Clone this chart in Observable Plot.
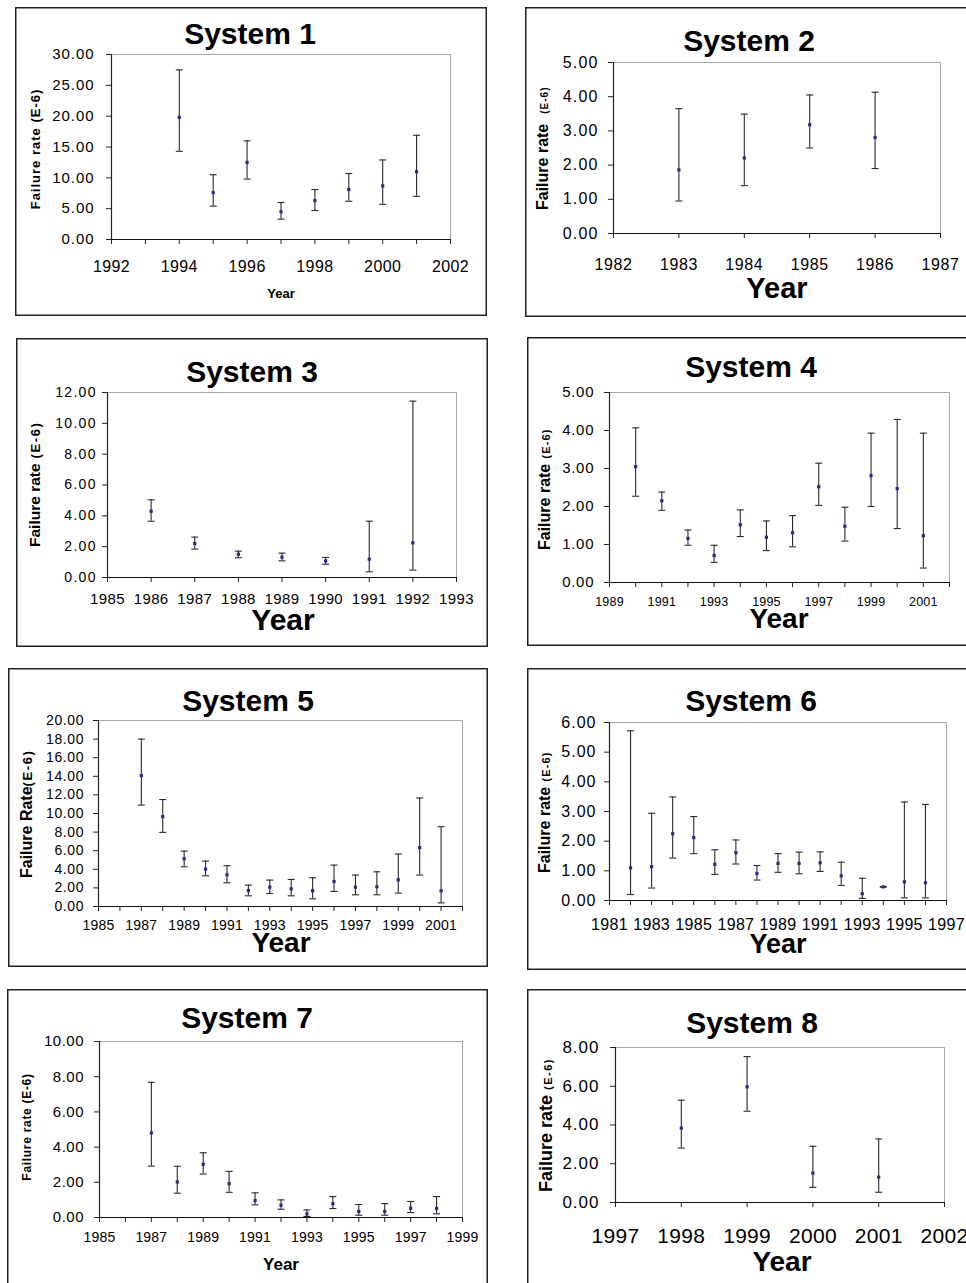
<!DOCTYPE html>
<html>
<head>
<meta charset="utf-8">
<script src="https://cdn.jsdelivr.net/npm/d3@7"></script>
<script src="https://cdn.jsdelivr.net/npm/@observablehq/plot@0.6"></script>
<style>
html,body{margin:0;padding:0;background:#fff;overflow:hidden;}
#page{position:relative;width:966px;height:1283px;overflow:hidden;background:#fff;}
#page svg{position:absolute;max-width:none;}
</style>
</head>
<body>
<div id="page"></div>
<script>
// ---------------- DATA ----------------
const sys1Years  = [1994, 1995, 1996, 1997, 1998, 1999, 2000, 2001];
const sys1Rate   = [19.8, 7.6, 12.5, 4.5, 6.3, 8.1, 8.7, 11.0];
const sys1Upper  = [27.5, 10.5, 16.0, 6.0, 8.1, 10.7, 12.9, 16.9];
const sys1Lower  = [14.3, 5.4, 9.8, 3.3, 4.7, 6.2, 5.7, 7.0];
const sys1XTicks = [1992, 1993, 1994, 1995, 1996, 1997, 1998, 1999, 2000, 2001, 2002];
const sys1XLabels = [1992, 1994, 1996, 1998, 2000, 2002];
const sys1YTicks = [0, 5, 10, 15, 20, 25, 30];

const sys2Years  = [1983, 1984, 1985, 1986];
const sys2Rate   = [1.86, 2.21, 3.18, 2.81];
const sys2Upper  = [3.65, 3.49, 4.05, 4.13];
const sys2Lower  = [0.95, 1.40, 2.50, 1.90];
const sys2XTicks = [1982, 1983, 1984, 1985, 1986, 1987];
const sys2XLabels = [1982, 1983, 1984, 1985, 1986, 1987];
const sys2YTicks = [0, 1, 2, 3, 4, 5];

const sys3Years  = [1986, 1987, 1988, 1989, 1990, 1991, 1992];
const sys3Rate   = [4.30, 2.20, 1.51, 1.32, 1.08, 1.19, 2.25];
const sys3Upper  = [5.04, 2.62, 1.71, 1.58, 1.30, 3.65, 11.44];
const sys3Lower  = [3.65, 1.84, 1.28, 1.08, 0.86, 0.37, 0.48];
const sys3XTicks = [1985, 1986, 1987, 1988, 1989, 1990, 1991, 1992, 1993];
const sys3XLabels = [1985, 1986, 1987, 1988, 1989, 1990, 1991, 1992, 1993];
const sys3YTicks = [0, 2, 4, 6, 8, 10, 12];

const sys4Years  = [1990, 1991, 1992, 1993, 1994, 1995, 1996, 1997, 1998, 1999, 2000, 2001];
const sys4Rate   = [3.05, 2.15, 1.16, 0.71, 1.52, 1.19, 1.31, 2.52, 1.48, 2.81, 2.47, 1.23];
const sys4Upper  = [4.07, 2.38, 1.38, 0.98, 1.91, 1.62, 1.76, 3.14, 1.98, 3.93, 4.29, 3.93];
const sys4Lower  = [2.27, 1.90, 0.98, 0.53, 1.21, 0.84, 0.94, 2.03, 1.09, 2.00, 1.42, 0.38];
const sys4XTicks = [1989, 1990, 1991, 1992, 1993, 1994, 1995, 1996, 1997, 1998, 1999, 2000, 2001, 2002];
const sys4XLabels = [1989, 1991, 1993, 1995, 1997, 1999, 2001];
const sys4YTicks = [0, 1, 2, 3, 4, 5];

const sys5Years  = [1987, 1988, 1989, 1990, 1991, 1992, 1993, 1994, 1995, 1996, 1997, 1998, 1999, 2000, 2001];
const sys5Rate   = [14.07, 9.66, 5.13, 4.02, 3.41, 1.72, 2.08, 1.90, 1.69, 2.69, 2.08, 2.12, 2.87, 6.32, 1.69];
const sys5Upper  = [18.0, 11.5, 5.96, 4.88, 4.38, 2.30, 2.84, 2.91, 3.09, 4.45, 3.38, 3.73, 5.64, 11.67, 8.58];
const sys5Lower  = [10.9, 7.97, 4.27, 3.30, 2.55, 1.15, 1.40, 1.15, 0.83, 1.62, 1.26, 1.26, 1.44, 3.38, 0.39];
const sys5XTicks = [1985, 1986, 1987, 1988, 1989, 1990, 1991, 1992, 1993, 1994, 1995, 1996, 1997, 1998, 1999, 2000, 2001, 2002];
const sys5XLabels = [1985, 1987, 1989, 1991, 1993, 1995, 1997, 1999, 2001];
const sys5YTicks = [0, 2, 4, 6, 8, 10, 12, 14, 16, 18, 20];

const sys6Years  = [1982, 1983, 1984, 1985, 1986, 1987, 1988, 1989, 1990, 1991, 1992, 1993, 1994, 1995, 1996];
const sys6Rate   = [1.10, 1.14, 2.25, 2.12, 1.22, 1.61, 0.91, 1.25, 1.25, 1.27, 0.83, 0.23, 0.46, 0.63, 0.60];
const sys6Upper  = [5.72, 2.94, 3.49, 2.83, 1.71, 2.04, 1.18, 1.58, 1.63, 1.64, 1.29, 0.75, 0.47, 3.32, 3.24];
const sys6Lower  = [0.20, 0.42, 1.43, 1.58, 0.88, 1.23, 0.69, 0.95, 0.90, 0.98, 0.51, 0.07, 0.45, 0.09, 0.09];
const sys6XTicks = [1981, 1982, 1983, 1984, 1985, 1986, 1987, 1988, 1989, 1990, 1991, 1992, 1993, 1994, 1995, 1996, 1997];
const sys6XLabels = [1981, 1983, 1985, 1987, 1989, 1991, 1993, 1995, 1997];
const sys6YTicks = [0, 1, 2, 3, 4, 5, 6];

const sys7Years  = [1987, 1988, 1989, 1990, 1991, 1992, 1993, 1994, 1995, 1996, 1997, 1998];
const sys7Rate   = [4.81, 2.02, 3.02, 1.92, 0.96, 0.70, 0.21, 0.79, 0.34, 0.34, 0.53, 0.51];
const sys7Upper  = [7.68, 2.91, 3.68, 2.62, 1.40, 1.00, 0.43, 1.19, 0.74, 0.79, 0.91, 1.19];
const sys7Lower  = [2.92, 1.38, 2.47, 1.43, 0.72, 0.47, 0.06, 0.51, 0.13, 0.13, 0.28, 0.21];
const sys7XTicks = [1985, 1986, 1987, 1988, 1989, 1990, 1991, 1992, 1993, 1994, 1995, 1996, 1997, 1998, 1999];
const sys7XLabels = [1985, 1987, 1989, 1991, 1993, 1995, 1997, 1999];
const sys7YTicks = [0, 2, 4, 6, 8, 10];

const sys8Years  = [1998, 1999, 2000, 2001];
const sys8Rate   = [3.84, 5.97, 1.52, 1.31];
const sys8Upper  = [5.28, 7.53, 2.90, 3.28];
const sys8Lower  = [2.81, 4.71, 0.78, 0.53];
const sys8XTicks = [1997, 1998, 1999, 2000, 2001, 2002];
const sys8XLabels = [1997, 1998, 1999, 2000, 2001, 2002];
const sys8YTicks = [0, 2, 4, 6, 8];

const titles = ["System 1", "System 2", "System 3", "System 4", "System 5", "System 6", "System 7", "System 8"];

// ---------------- LAYOUT / STYLE ----------------
const FONT = '"Liberation Sans", Arial, Helvetica, sans-serif';
const layouts = [
  {l:15, t:7, w:472, h:309, mt:47, mr:37, mb:77, ml:96, yFont:15, yLs:0.9, yGap:18, xFont:16, xLs:0.4, xGap:21,
   titleX:235, titleY:37, yt:{mode:"single", text:"Failure rate (E-6)", size:13, ls:1, bx:25, cy:142}, yearX:266, yearY:291, yearSize:13},
  {l:525, t:7, w:470, h:310, mt:55, mr:55, mb:84, ml:88, yFont:16, yLs:1.2, yGap:16, xFont:16, xLs:0.6, xGap:25,
   titleX:224, titleY:44, yt:{mode:"split", big:"Failure rate", bigSize:16, smallSize:10, smallLs:1, gap:10, bx:23, sy:203}, yearX:252, yearY:291, yearSize:29},
  {l:16, t:338, w:472, h:309, mt:54, mr:32, mb:70, ml:91, yFont:14, yLs:1.3, yGap:12, xFont:15, xLs:0.4, xGap:16,
   titleX:236, titleY:44, yt:{mode:"split", big:"Failure rate", bigSize:15.5, smallSize:13, smallLs:1.6, gap:5, bx:24, sy:209}, yearX:267, yearY:292, yearSize:30},
  {l:527, t:337, w:468, h:309, mt:55, mr:46, mb:64, ml:82, yFont:15, yLs:0.7, yGap:16, xFont:12.5, xLs:0.2, xGap:15,
   titleX:224, titleY:40, yt:{mode:"split", big:"Failure rate", bigSize:16, smallSize:11, smallLs:1.2, gap:5, bx:23, sy:213}, yearX:252, yearY:291, yearSize:28},
  {l:8, t:668, w:480, h:299, mt:52, mr:26, mb:61, ml:90, yFont:14, yLs:0.6, yGap:15, xFont:14, xLs:0.2, xGap:14,
   titleX:240, titleY:43, yt:{mode:"split", big:"Failure Rate", bigSize:16, smallSize:13, smallLs:1.6, gap:0, bx:24, sy:210}, yearX:273, yearY:284, yearSize:28},
  {l:527, t:668, w:468, h:302, mt:54, mr:49, mb:70, ml:82, yFont:16, yLs:1, yGap:14, xFont:16, xLs:0.3, xGap:18,
   titleX:224, titleY:43, yt:{mode:"split", big:"Failure rate", bigSize:16, smallSize:11, smallLs:1.2, gap:5, bx:23, sy:205}, yearX:251, yearY:285, yearSize:27},
  {l:7, t:989, w:481, h:300, mt:52, mr:26, mb:72, ml:92, yFont:15, yLs:0.5, yGap:16, xFont:14, xLs:0.2, xGap:15,
   titleX:240, titleY:39, yt:{mode:"single", text:"Failure rate (E-6)", size:12, ls:0.7, bx:24, cy:138}, yearX:274, yearY:281, yearSize:17},
  {l:527, t:989, w:468, h:300, mt:58, mr:51, mb:87, ml:88, yFont:17, yLs:1, yGap:17, xFont:21, xLs:0.3, xGap:26,
   titleX:225, titleY:44, yt:{mode:"split", big:"Failure rate", bigSize:18, smallSize:11, smallLs:1.5, gap:5, bx:25, sy:203}, yearX:255, yearY:282, yearSize:28}
];

const systems = [
  {years:sys1Years, rate:sys1Rate, upper:sys1Upper, lower:sys1Lower, xTicks:sys1XTicks, xLabels:sys1XLabels, yTicks:sys1YTicks},
  {years:sys2Years, rate:sys2Rate, upper:sys2Upper, lower:sys2Lower, xTicks:sys2XTicks, xLabels:sys2XLabels, yTicks:sys2YTicks},
  {years:sys3Years, rate:sys3Rate, upper:sys3Upper, lower:sys3Lower, xTicks:sys3XTicks, xLabels:sys3XLabels, yTicks:sys3YTicks},
  {years:sys4Years, rate:sys4Rate, upper:sys4Upper, lower:sys4Lower, xTicks:sys4XTicks, xLabels:sys4XLabels, yTicks:sys4YTicks},
  {years:sys5Years, rate:sys5Rate, upper:sys5Upper, lower:sys5Lower, xTicks:sys5XTicks, xLabels:sys5XLabels, yTicks:sys5YTicks},
  {years:sys6Years, rate:sys6Rate, upper:sys6Upper, lower:sys6Lower, xTicks:sys6XTicks, xLabels:sys6XLabels, yTicks:sys6YTicks},
  {years:sys7Years, rate:sys7Rate, upper:sys7Upper, lower:sys7Lower, xTicks:sys7XTicks, xLabels:sys7XLabels, yTicks:sys7YTicks},
  {years:sys8Years, rate:sys8Rate, upper:sys8Upper, lower:sys8Lower, xTicks:sys8XTicks, xLabels:sys8XLabels, yTicks:sys8YTicks}
];

// horizontal cap symbol for error bars
const capSymbol = {draw(context) { context.moveTo(-3.5, 0); context.lineTo(3.5, 0); }};

const page = document.getElementById("page");

systems.forEach((s, i) => {
  const L = layouts[i];
  const data = s.years.map((year, k) => ({year, rate: s.rate[k], hi: s.upper[k], lo: s.lower[k]}));
  const xDomain = [s.xTicks[0], s.xTicks[s.xTicks.length - 1]];
  const yDomain = [s.yTicks[0], s.yTicks[s.yTicks.length - 1]];
  const svg = Plot.plot({
    width: L.w, height: L.h,
    marginTop: L.mt, marginRight: L.mr, marginBottom: L.mb, marginLeft: L.ml,
    style: {fontFamily: FONT, background: "white", color: "#000", overflow: "visible"},
    x: {domain: xDomain, axis: null},
    y: {domain: yDomain, axis: null},
    marks: [
      Plot.frame({stroke: "#a8a8a8"}),
      Plot.axisY({ticks: s.yTicks, tickFormat: d => d.toFixed(2), tickSize: 5, tickPadding: L.yGap - 5 - L.yLs,
                  fontSize: L.yFont, label: null, stroke: "#222"}),
      Plot.axisX({ticks: s.xTicks, tickFormat: d => s.xLabels.includes(d) ? String(d) : "", tickSize: 5,
                  tickPadding: L.xGap - 5, fontSize: L.xFont, label: null, stroke: "#222"}),
      Plot.ruleX([xDomain[0]], {stroke: "#222", strokeWidth: 1.2}),
      Plot.ruleY([yDomain[0]], {stroke: "#111", strokeWidth: 1.2}),
      Plot.ruleX(data, {x: "year", y1: "lo", y2: "hi", stroke: "#2a2a2a", strokeWidth: 1.1}),
      Plot.dot(data, {x: "year", y: "lo", symbol: capSymbol, stroke: "#2a2a2a", fill: "none", strokeWidth: 1.1}),
      Plot.dot(data, {x: "year", y: "hi", symbol: capSymbol, stroke: "#2a2a2a", fill: "none", strokeWidth: 1.1}),
      Plot.dot(data, {x: "year", y: "rate", symbol: "square", r: 1.8, fill: "#3a1f8f", stroke: "none"})
    ]
  });
  svg.style.position = "absolute";
  svg.style.left = L.l + "px";
  svg.style.top = L.t + "px";
  svg.style.maxWidth = "none";
  const g = d3.select(svg);
  g.selectAll('[aria-label="y-axis tick label"]').attr("letter-spacing", L.yLs);
  g.selectAll('[aria-label="x-axis tick label"]').attr("letter-spacing", L.xLs);
  // panel border
  g.append("rect").attr("x", 0.75).attr("y", 0.75).attr("width", L.w - 1.5).attr("height", L.h - 1.5)
    .attr("fill", "none").attr("stroke", "#222").attr("stroke-width", 1.5);
  // title
  g.append("text").attr("x", L.titleX).attr("y", L.titleY).attr("text-anchor", "middle")
    .attr("font-family", FONT).attr("font-weight", "bold").attr("font-size", 30).attr("fill", "#000").text(titles[i]);
  // y title
  const yt = L.yt;
  if (yt.mode === "single") {
    g.append("text").attr("transform", `translate(${yt.bx},${yt.cy}) rotate(-90)`).attr("text-anchor", "middle")
      .attr("font-family", FONT).attr("font-weight", "bold").attr("font-size", yt.size).attr("letter-spacing", yt.ls)
      .attr("fill", "#000").text(yt.text);
  } else {
    const t = g.append("text").attr("transform", `translate(${yt.bx},${yt.sy}) rotate(-90)`)
      .attr("text-anchor", "start")
      .attr("font-family", FONT).attr("font-weight", "bold").attr("fill", "#000");
    t.append("tspan").attr("font-size", yt.bigSize).text(yt.big);
    t.append("tspan").attr("font-size", yt.smallSize).attr("dx", yt.gap).attr("letter-spacing", yt.smallLs).text("(E-6)");
  }
  // x title
  g.append("text").attr("x", L.yearX).attr("y", L.yearY).attr("text-anchor", "middle")
    .attr("font-family", FONT).attr("font-weight", "bold").attr("font-size", L.yearSize).attr("fill", "#000").text("Year");
  page.appendChild(svg);
});
</script>
</body>
</html>
